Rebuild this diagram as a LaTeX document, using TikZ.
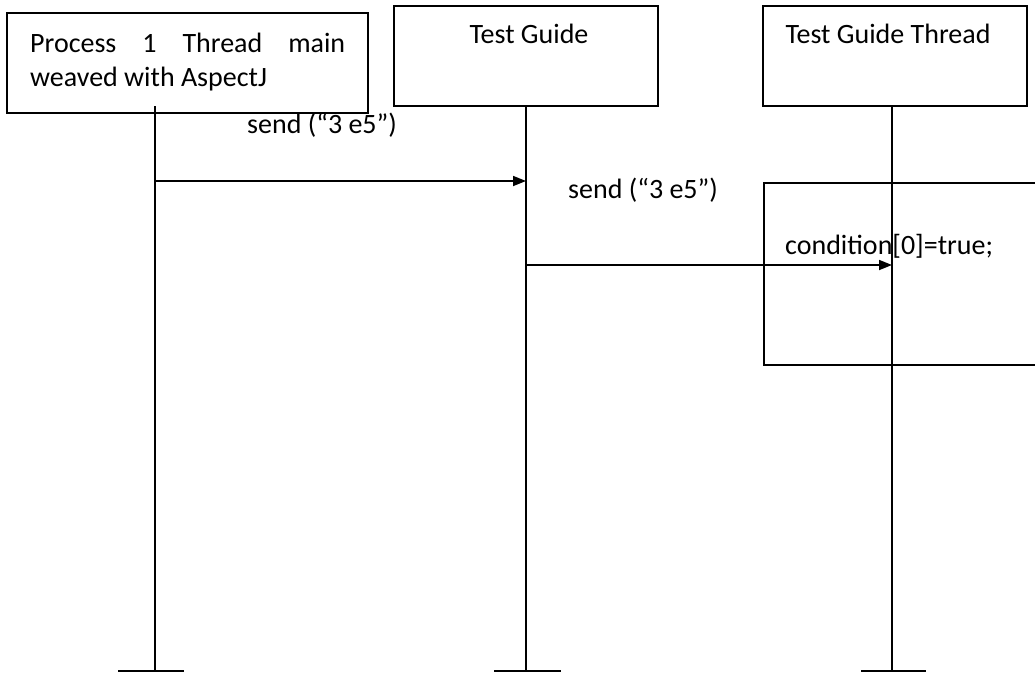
\documentclass[tikz,border=0pt]{standalone}
\usepackage{fontspec}
\setmainfont{Carlito}
\usetikzlibrary{arrows.meta}
\begin{document}
\begin{tikzpicture}[x=1pt,y=-1pt,
  lifebox/.style={draw,line width=1.7pt,rectangle,inner sep=0pt},
  lifeline/.style={line width=1.7pt},
  msg/.style={line width=1.7pt,-{Triangle[length=13pt,width=10pt]}},
  txt/.style={inner sep=0pt,anchor=base,font=\fontsize{28}{35}\selectfont}]
\useasboundingbox (0,0) rectangle (1035,673);
\clip (0,0) rectangle (1035,673);
% boxes
\node[lifebox,minimum width=361pt,minimum height=100pt] (b1) at (187.5,63) {};
\node[lifebox,minimum width=264pt,minimum height=100pt] (b2) at (526,56) {};
\node[lifebox,minimum width=264pt,minimum height=100pt] (b3) at (895,56) {};
% box texts
\node[txt,anchor=base west] (t1) at (30,52) {\hbox to 315pt{Process\hfill 1\hfill Thread\hfill main}};
\node[txt,anchor=base west] (t1b) at (30,86) {weaved with AspectJ};
\node[txt] (t2) at (529,43) {Test Guide};
\node[txt] (t3) at (888,43) {Test Guide Thread};
% lifeline coordinates
\coordinate (s1) at (155,106);
\coordinate (s2) at (526,106);
\coordinate (s3) at (892,106);
\coordinate (e1) at (155,671);
\coordinate (e2) at (526,671);
\coordinate (e3) at (892,671);
% activation box (open to the right)
\node[lifebox,minimum width=300pt,minimum height=182pt,anchor=north west] (act) at (763,182) {};
% lifelines
\draw[lifeline] (s1) -- (e1);
\draw[lifeline] (s2) -- (e2);
\draw[lifeline] (s3) -- (e3);
% end bars
\draw[lifeline] ([xshift=-37pt]e1) -- ([xshift=29pt]e1);
\draw[lifeline] ([xshift=-32pt]e2) -- ([xshift=35pt]e2);
\draw[lifeline] ([xshift=-31pt]e3) -- ([xshift=34pt]e3);
% messages
\coordinate (m1a) at (155,181);
\coordinate (m1b) at (526,181);
\coordinate (m2a) at (526,265);
\coordinate (m2b) at (892,265);
\draw[msg] (m1a) -- (m1b);
\draw[msg] (m2a) -- (m2b);
% labels
\node[txt,anchor=base west] (l1) at (247,133) {send (“3 e5”)};
\node[txt,anchor=base west] (l2) at (568,198) {send (“3 e5”)};
\node[txt,anchor=base west] (l3) at (785,254) {condition[0]=true;};
\end{tikzpicture}
\end{document}
